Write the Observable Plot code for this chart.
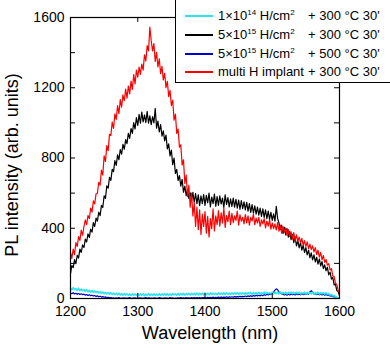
<!DOCTYPE html>
<html><head><meta charset="utf-8">
<script src="https://cdn.jsdelivr.net/npm/d3@7"></script>
<script src="https://cdn.jsdelivr.net/npm/@observablehq/plot@0.6"></script>
<style>
body{margin:0;background:#fff;overflow:hidden;}
#wrap{position:relative;width:390px;height:348px;overflow:hidden;font-family:Arial,"Liberation Sans",sans-serif;}
#legend{position:absolute;left:175px;top:-5px;width:240px;height:88px;border:1px solid #000;background:#fff;box-sizing:border-box;}
.row{position:absolute;left:0;height:16px;width:240px;font-size:13px;line-height:16px;color:#000;}
.sw{position:absolute;left:9px;top:7px;width:28px;height:2px;}
.lab{position:absolute;left:42px;top:0;white-space:nowrap;}
.suf{position:absolute;left:132px;top:0;white-space:nowrap;}
sup{font-size:8px;vertical-align:5px;line-height:0;}
</style></head>
<body><div id="wrap"></div>
<script>
const wavelengths = [
1200,1202,1204,1206,1208,1210,1212,1214,1216,1218,
1220,1222,1224,1226,1228,1230,1232,1234,1236,1238,
1240,1242,1244,1246,1248,1250,1252,1254,1256,1258,
1260,1262,1264,1266,1268,1270,1272,1274,1276,1278,
1280,1282,1284,1286,1288,1290,1292,1294,1296,1298,
1300,1302,1304,1306,1308,1310,1312,1314,1316,1318,
1320,1322,1324,1326,1328,1330,1332,1334,1336,1338,
1340,1342,1344,1346,1348,1350,1352,1354,1356,1358,
1360,1362,1364,1366,1368,1370,1372,1374,1376,1378,
1380,1382,1384,1386,1388,1390,1392,1394,1396,1398,
1400,1402,1404,1406,1408,1410,1412,1414,1416,1418,
1420,1422,1424,1426,1428,1430,1432,1434,1436,1438,
1440,1442,1444,1446,1448,1450,1452,1454,1456,1458,
1460,1462,1464,1466,1468,1470,1472,1474,1476,1478,
1480,1482,1484,1486,1488,1490,1492,1494,1496,1498,
1500,1502,1504,1506,1508,1510,1512,1514,1516,1518,
1520,1522,1524,1526,1528,1530,1532,1534,1536,1538,
1540,1542,1544,1546,1548,1550,1552,1554,1556,1558,
1560,1562,1564,1566,1568,1570,1572,1574,1576,1578,
1580,1582,1584,1586,1588,1590,1592,1594,1596,1598,
1600];

const cyan1e14_300 = [
60,49,62,50,57,46,58,44,53,45,
51,40,50,38,47,36,46,34,43,33,
41,31,39,29,37,27,35,26,34,24,
33,23,31,22,30,21,30,20,29,19,
28,18,27,19,26,17,27,18,26,17,
27,17,26,18,27,16,25,18,27,17,
26,18,27,17,25,18,28,17,26,19,
27,18,28,19,26,18,28,20,27,19,
29,19,28,20,30,19,28,21,29,20,
30,21,29,20,31,21,30,22,29,21,
31,22,30,21,32,22,31,23,30,22,
32,23,31,24,33,22,32,24,31,23,
33,24,32,25,34,23,33,25,32,24,
34,25,33,26,35,24,34,26,33,25,
35,26,34,27,36,25,35,27,34,26,
36,27,35,28,37,26,36,28,35,27,
36,26,35,28,37,27,36,27,35,28,
35,26,34,27,36,25,35,27,34,26,
35,25,34,26,35,25,33,26,34,25,
33,23,29,19,24,14,18,8,9,2,
1];

const black5e15_300 = [
142,188,176,221,198,246,230,281,262,305,
290,338,322,368,348,395,378,432,410,458,
440,492,472,530,518,585,570,642,628,690,
672,735,722,785,758,818,790,848,822,878,
850,905,882,940,912,968,940,1002,965,1030,
985,1048,998,1062,1005,1045,1002,1065,998,1040,
990,1035,1000,1082,970,1010,948,990,925,955,
898,930,852,880,812,845,762,800,712,735,
672,700,640,678,605,640,585,620,570,602,
555,605,548,598,540,590,528,585,540,592,
530,588,545,600,522,578,540,595,525,580,
530,585,538,572,518,590,535,575,522,568,
525,572,520,565,515,560,508,558,512,550,
505,548,498,540,490,535,486,528,480,520,
475,515,468,510,462,505,455,498,450,490,
445,482,440,525,455,430,392,418,370,405,
362,398,350,382,335,366,318,350,300,330,
288,318,275,302,262,290,248,275,232,260,
220,248,208,235,196,225,185,210,170,192,
158,178,135,150,110,120,78,82,45,40,
15];

const blue5e15_500 = [
32,27,33,26,30,24,29,23,27,22,
25,19,23,17,21,16,19,14,17,12,
15,10,13,8,11,7,9,5,7,4,
5,2,4,1,4,2,5,1,3,2,
4,1,3,2,5,1,3,2,4,1,
3,2,4,1,3,2,5,1,4,2,
3,1,4,2,3,1,5,2,3,1,
4,2,3,1,5,2,4,1,3,2,
4,2,5,2,4,3,5,2,4,3,
5,3,6,2,5,3,6,3,5,4,
6,3,7,4,6,4,8,4,7,5,
8,5,9,5,8,6,10,6,9,7,
10,7,12,8,11,9,13,9,12,10,
14,10,15,11,16,12,17,13,18,14,
19,15,20,16,22,18,24,20,26,22,
28,35,48,55,50,38,30,26,24,20,
24,19,25,20,26,21,24,20,27,22,
25,21,28,22,26,23,29,24,38,44,
36,25,28,22,26,21,27,20,25,19,
24,18,20,14,16,10,11,6,5,2,
0];

const redMultiH_300 = [
262,228,281,250,318,296,352,331,389,360,
410,448,421,472,455,515,492,556,538,596,
598,662,645,731,702,812,780,871,842,935,
928,1004,968,1051,1020,1098,1052,1132,1090,1160,
1126,1192,1141,1210,1165,1238,1190,1275,1222,1301,
1260,1318,1276,1335,1300,1388,1352,1440,1410,1545,
1468,1410,1452,1350,1402,1318,1365,1280,1322,1245,
1282,1201,1236,1150,1185,1098,1130,1015,1050,940,
965,862,875,760,790,655,702,580,645,520,
600,470,545,410,520,392,505,365,480,410,
495,372,468,350,455,398,510,385,470,420,
500,412,488,430,515,405,472,438,498,420,
485,432,470,445,498,418,476,440,462,425,
478,430,470,418,462,441,480,420,458,430,
462,410,448,425,455,402,440,412,448,395,
430,398,425,390,432,384,418,372,410,378,
402,360,392,352,380,338,375,330,362,325,
350,318,342,302,330,295,322,284,310,278,
300,265,290,250,275,236,262,220,245,205,
222,190,198,162,170,128,125,88,80,48,
35];

const seriesNames = ["1e14 300C", "5e15 300C", "5e15 500C", "multi H 300C"];
const seriesColors = ["#2fe3ee", "#000000", "#0000c8", "#ff0000"];
const seriesValues = [cyan1e14_300, black5e15_300, blue5e15_500, redMultiH_300];
const legendLabels = [
  "1&times;10<sup>14</sup> H/cm<sup>2</sup>",
  "5&times;10<sup>15</sup> H/cm<sup>2</sup>",
  "5&times;10<sup>15</sup> H/cm<sup>2</sup>",
  "multi H implant"];
const legendSuffix = ["+ 300 &deg;C 30'", "+ 300 &deg;C 30'", "+ 500 &deg;C 30'", "+ 300 &deg;C 30'"];

const xTicks = [1200, 1300, 1400, 1500, 1600];
const yTicks = [0, 400, 800, 1200, 1600];
const yMinorTicks = [200, 600, 1000, 1400];

const data = [];
seriesValues.forEach((vals, s) => vals.forEach((v, i) => data.push({w: wavelengths[i], v, name: seriesNames[s]})));

const drawOrder = [1, 2, 0, 3];
const lineMarks = drawOrder.map(s => Plot.line(data.filter(d => d.name === seriesNames[s]),
  {x: "w", y: "v", stroke: seriesColors[s], strokeWidth: s === 0 ? 1.6 : 1.2}));

const tk = 28, tkx = 7.4;
const chart = Plot.plot({
  width: 390, height: 348,
  marginLeft: 70, marginRight: 51, marginTop: 17, marginBottom: 50,
  x: {domain: [1200, 1600]},
  y: {domain: [0, 1600]},
  style: {fontFamily: "Arial, 'Liberation Sans', sans-serif", fontSize: "14px", color: "#000", background: "#fff", overflow: "visible"},
  marks: [
    Plot.axisX({ticks: xTicks, tickSize: 0, tickPadding: 8, label: null, tickFormat: d => String(d), fontSize: 14}),
    Plot.axisY({ticks: yTicks, tickSize: 0, tickPadding: 6, label: null, tickFormat: d => String(d), fontSize: 14}),
    ...lineMarks,
    Plot.ruleX(xTicks, {x: d => d, y1: 0, y2: tk, stroke: "#000"}),
    Plot.ruleX(xTicks, {x: d => d, y1: 1600, y2: 1600 - tk, stroke: "#000"}),
    Plot.ruleY(yTicks.concat(yMinorTicks), {y: d => d, x1: 1200, x2: 1200 + tkx, stroke: "#000"}),
    Plot.ruleY(yTicks.concat(yMinorTicks), {y: d => d, x1: 1600, x2: 1600 - tkx, stroke: "#000"}),
    Plot.frame({stroke: "#000", strokeWidth: 1.2}),
    Plot.text(["Wavelength (nm)"], {text: d => d, frameAnchor: "bottom", dx: 5, dy: 40, fontSize: 18}),
    Plot.text(["PL intensity (arb. units)"], {text: d => d, frameAnchor: "left", textAnchor: "middle", dx: -58, dy: 7, rotate: -90, fontSize: 18})
  ]
});
const wrap = document.getElementById("wrap");
wrap.appendChild(chart);

const legend = document.createElement("div");
legend.id = "legend";
const rowY = [15, 33.5, 52.5, 71];
legendLabels.forEach((lab, i) => {
  const row = document.createElement("div");
  row.className = "row";
  row.style.top = (rowY[i] + 5 - 8) + "px";
  row.innerHTML = `<div class="sw" style="background:${seriesColors[i]}"></div><span class="lab">${lab}</span><span class="suf">${legendSuffix[i]}</span>`;
  legend.appendChild(row);
});
wrap.appendChild(legend);
</script>
</body></html>
